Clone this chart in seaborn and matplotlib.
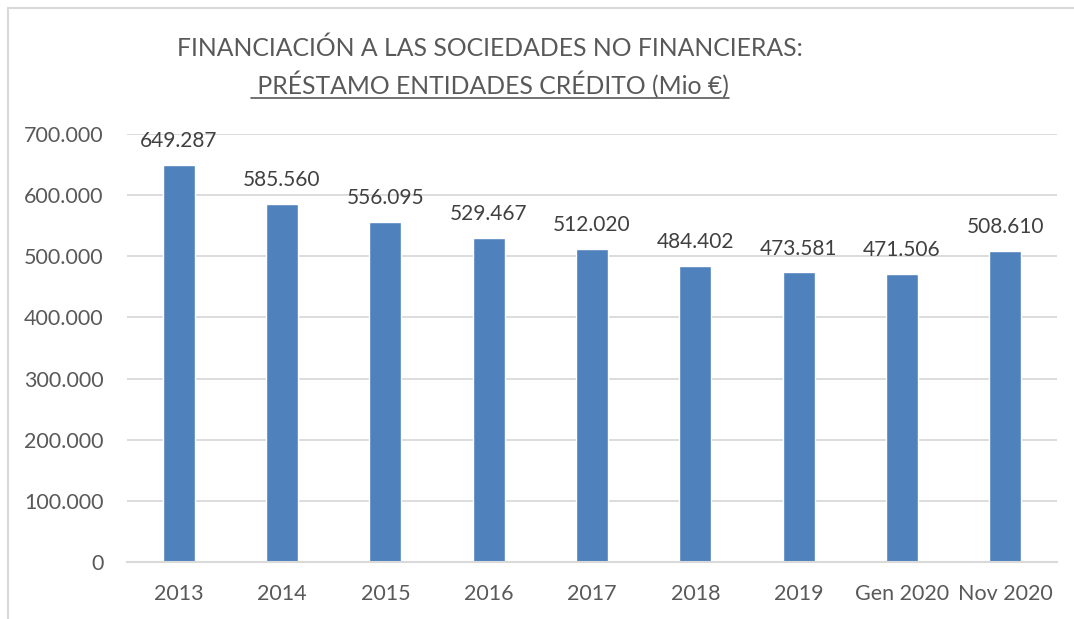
import matplotlib
matplotlib.use("Agg")
import matplotlib.pyplot as plt
import seaborn as sns
from matplotlib.lines import Line2D

categories = ["2013", "2014", "2015", "2016", "2017", "2018", "2019", "Gen 2020", "Nov 2020"]
values = [649287, 585560, 556095, 529467, 512020, 484402, 473581, 471506, 508610]
yticks = [0, 100000, 200000, 300000, 400000, 500000, 600000, 700000]

def fmt(v):
    return f"{int(v):,}".replace(",", ".")

sns.set_theme(style="white")
plt.rcParams['font.family'] = ['Lato', 'DejaVu Sans']

fig = plt.figure(figsize=(10.74, 6.19), dpi=100)
ax = fig.add_axes([127/1074, 1-562/619, (1057-127)/1074, (562-134)/619])

BAR = "#4F81BD"
TXT = "#595959"
GRID = "#D9D9D9"

sns.barplot(x=categories, y=values, color=BAR, width=0.31, ax=ax, saturation=1)
ax.set_ylim(0, 700000)
ax.set_xlim(-0.5, len(categories) - 0.5)
ax.set_yticks(yticks)
ax.set_yticklabels([fmt(t) for t in yticks])
ax.yaxis.grid(True, color=GRID, linewidth=1.3)
ax.set_axisbelow(True)
for s in ["top", "right", "left"]:
    ax.spines[s].set_visible(False)
ax.spines["bottom"].set_color(GRID)
ax.spines["bottom"].set_linewidth(1.5)
ax.tick_params(axis="both", length=0, labelsize=15.5, colors=TXT)
ax.tick_params(axis="y", pad=17)
ax.tick_params(axis="x", pad=16)
ax.set_xlabel("")
ax.set_ylabel("")

for c in ax.containers:
    ax.bar_label(c, labels=[fmt(v) for v in values], padding=10, fontsize=15, color="#404040")

fig.text(490/1074, 1-48/619, "FINANCIACIÓN A LAS SOCIEDADES NO FINANCIERAS:", ha="center", va="center",
         fontsize=17.8, color=TXT)
t2 = fig.text(490/1074, 1-85/619, " PRÉSTAMO ENTIDADES CRÉDITO (Mio €)", ha="center", va="center",
              fontsize=17.8, color=TXT)

fig.canvas.draw()
bb = t2.get_window_extent().transformed(fig.transFigure.inverted())
fig.add_artist(Line2D([bb.x0, bb.x1], [1-98/619, 1-98/619], transform=fig.transFigure,
                      color=TXT, linewidth=1.2))

# outer frame (light grey)
fig.add_artist(Line2D([8/1074, 8/1074], [0, 1-8/619], transform=fig.transFigure, color="#D9D9D9", linewidth=1.5))
fig.add_artist(Line2D([8/1074, 1], [1-8/619, 1-8/619], transform=fig.transFigure, color="#D9D9D9", linewidth=1.5))

fig.savefig("out.png", dpi=100)
